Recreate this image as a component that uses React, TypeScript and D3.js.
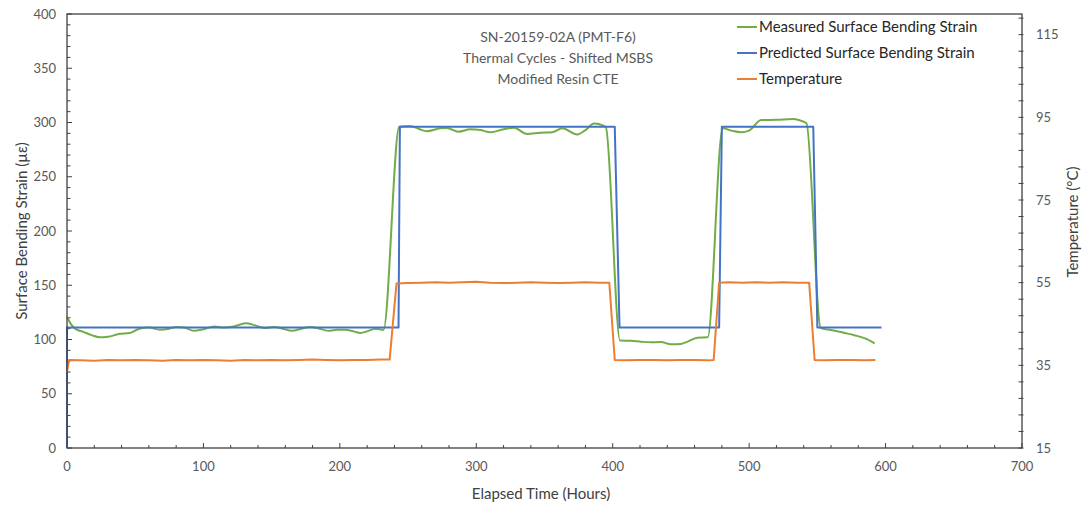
import React from "react";
import * as d3 from "d3";

// ---- data ----
const measuredTime = [
  0, 3, 6, 12, 18, 24, 30, 38, 46, 53, 60, 68, 75, 80, 86, 93, 100, 108, 115, 122,
  131, 138, 145, 152, 158, 165, 172, 178, 185, 192, 198, 204, 210, 215, 220, 226, 232,
  243.5, 251.5, 258, 263.7, 273.5, 278.4, 287, 295.6, 303, 310.3, 320, 327.5, 337.3,
  347, 355.6, 363, 374, 380, 386.3, 393.6, 395,
  405.4, 413, 420.6, 428, 435.3, 442.6, 450, 455, 462, 469.6,
  480.6, 487, 494, 500, 508.8, 520, 532, 537, 542,
  552.5, 560, 570, 577, 585, 592,
];
const measuredStrain = [
  121, 114, 110, 107, 104, 102, 102.5, 105, 106, 110, 111, 109, 110, 111.5, 111, 108, 109.5, 112, 111, 112,
  115, 113, 110.5, 111.5, 110, 108, 110, 111.5, 110, 108, 109, 109, 107.5, 106, 107.5, 110, 109,
  296, 296.8, 294, 292, 294.6, 295, 291.5, 293.7, 293, 291, 293.7, 295.2, 289.4,
  290.6, 291, 294.6, 289, 293, 299, 296.8, 295.6,
  99, 98.9, 98, 97.4, 97.7, 95.6, 95.9, 98, 101.7, 102,
  294.6, 292.5, 291, 292.5, 302.3, 302.5, 303.2, 302, 299.3,
  110.5, 108.8, 106, 104, 101, 96.5,
];

const predictedTime = [0, 0, 243, 244, 401.5, 405, 478, 480, 547, 550, 597];
const predictedStrain = [0, 111, 111, 296, 296, 111, 111, 296, 296, 111, 111];

const temperatureTime = [
  0, 1.5, 10, 20, 30, 40, 50, 60, 70, 80, 90, 100, 110, 120, 130, 140, 150, 160, 170, 180,
  190, 200, 210, 220, 230, 236.5,
  241.5, 250, 260, 270, 280, 290, 300, 310, 320, 330, 340, 350, 360, 370, 380, 390, 397.5,
  401.5, 410, 420, 430, 440, 450, 460, 470, 474,
  478, 485, 495, 505, 515, 525, 535, 544,
  548, 555, 565, 575, 585, 592.5,
];
const temperatureC = [
  33.4, 36.3, 36.2, 36.1, 36.3, 36.2, 36.3, 36.2, 36.1, 36.3, 36.2, 36.3, 36.2, 36.1, 36.3, 36.2, 36.3, 36.2, 36.3, 36.4,
  36.3, 36.2, 36.3, 36.3, 36.4, 36.4,
  54.8, 54.9, 55.0, 55.1, 55.0, 55.1, 55.2, 55.0, 54.9, 55.0, 55.1, 55.0, 54.9, 55.0, 55.1, 55.0, 55.0,
  36.3, 36.2, 36.3, 36.3, 36.2, 36.3, 36.3, 36.2, 36.3,
  55.0, 55.1, 55.0, 55.1, 55.0, 55.1, 55.0, 55.0,
  36.3, 36.2, 36.3, 36.3, 36.2, 36.3,
];

const xTicks = [0, 100, 200, 300, 400, 500, 600, 700];
const strainTicks = [0, 50, 100, 150, 200, 250, 300, 350, 400];
const tempTicks = [15, 35, 55, 75, 95, 115];

const titleLines = ["SN-20159-02A (PMT-F6)", "Thermal Cycles - Shifted MSBS", "Modified Resin CTE"];
const legendItems = [
  { label: "Measured Surface Bending Strain", color: "#70AD47" },
  { label: "Predicted Surface Bending Strain", color: "#4472C4" },
  { label: "Temperature", color: "#ED7D31" },
];

// ---- layout ----
const W = 1092;
const H = 505;
const left = 67;
const right = 1022;
const top = 14;
const bottom = 448;
const FONT = "Lato, 'Open Sans', sans-serif";
const AXIS = "#404040";
const LABEL = "#595959";

export default function App() {
  const x = d3.scaleLinear().domain([0, 700]).range([left, right]);
  const yL = d3.scaleLinear().domain([0, 400]).range([bottom, top]);
  const yR = d3.scaleLinear().domain([15, 120]).range([bottom, top]);

  const strainLine = d3
    .line<number>()
    .x((_, i) => x(measuredTime[i]))
    .y((d) => yL(d))
    .curve(d3.curveMonotoneX);
  const predLine = d3
    .line<number>()
    .x((_, i) => x(predictedTime[i]))
    .y((d) => yL(d));
  const tempLine = d3
    .line<number>()
    .x((_, i) => x(temperatureTime[i]))
    .y((d) => yR(d));

  const xMinor = d3.range(0, 701, 20);
  const lMinor = d3.range(0, 401, 10);
  const rMinor = d3.range(15, 121, 4);

  return (
    <svg
      width={W}
      height={H}
      style={{ position: "absolute", left: 0, top: 0, background: "#fff" }}
      fontFamily={FONT}
    >
      <rect x={0} y={0} width={W} height={H} fill="#fff" />

      {/* ticks */}
      <g stroke={AXIS} strokeWidth={1}>
        {xMinor.map((v) => (
          <line key={"xm" + v} x1={x(v)} x2={x(v)} y1={bottom} y2={bottom - (v % 100 === 0 ? 5 : 3)} />
        ))}
        {lMinor.map((v) => (
          <line key={"lm" + v} x1={left} x2={left + (v % 50 === 0 ? 5 : 3.5)} y1={yL(v)} y2={yL(v)} />
        ))}
        {rMinor.map((v) => (
          <line key={"rm" + v} x1={right - 3.5} x2={right + 1.5} y1={yR(v)} y2={yR(v)} />
        ))}
      </g>

      {/* data */}
      <path d={strainLine(measuredStrain) || ""} fill="none" stroke="#70AD47" strokeWidth={2} strokeLinejoin="round" />
      <path d={predLine(predictedStrain) || ""} fill="none" stroke="#4472C4" strokeWidth={2} strokeLinejoin="round" />
      <path d={tempLine(temperatureC) || ""} fill="none" stroke="#ED7D31" strokeWidth={2} strokeLinejoin="round" />

      {/* frame */}
      <rect x={left} y={top} width={right - left} height={bottom - top} fill="none" stroke={AXIS} strokeWidth={1.3} />

      {/* tick labels */}
      <g fontSize={13} fill={LABEL}>
        {xTicks.map((v) => (
          <text key={"xt" + v} x={x(v)} y={471} textAnchor="middle">
            {v}
          </text>
        ))}
        {strainTicks.map((v) => (
          <text key={"lt" + v} x={56} y={yL(v) + 4.5} textAnchor="end">
            {v}
          </text>
        ))}
        {tempTicks.map((v) => (
          <text key={"rt" + v} x={1036} y={yR(v) + 4.5} textAnchor="start">
            {v}
          </text>
        ))}
      </g>

      {/* axis titles */}
      <g fontSize={15} fill={AXIS}>
        <text x={541} y={499} textAnchor="middle">
          Elapsed Time (Hours)
        </text>
        <text transform={`translate(27,${231}) rotate(-90)`} textAnchor="middle">
          Surface Bending Strain (µε)
        </text>
        <text transform={`translate(1078,${222}) rotate(-90)`} textAnchor="middle">
          Temperature (°C)
        </text>
      </g>

      {/* chart title */}
      <g fontSize={14} fill={LABEL}>
        {titleLines.map((t, i) => (
          <text key={t} x={558} y={42 + i * 21} textAnchor="middle">
            {t}
          </text>
        ))}
      </g>

      {/* legend */}
      <g fontSize={15} fill="#262626">
        {legendItems.map((it, i) => (
          <g key={it.label}>
            <line x1={737} x2={757} y1={27 + i * 26} y2={27 + i * 26} stroke={it.color} strokeWidth={2} />
            <text x={759} y={27 + i * 26 + 5}>
              {it.label}
            </text>
          </g>
        ))}
      </g>
    </svg>
  );
}
